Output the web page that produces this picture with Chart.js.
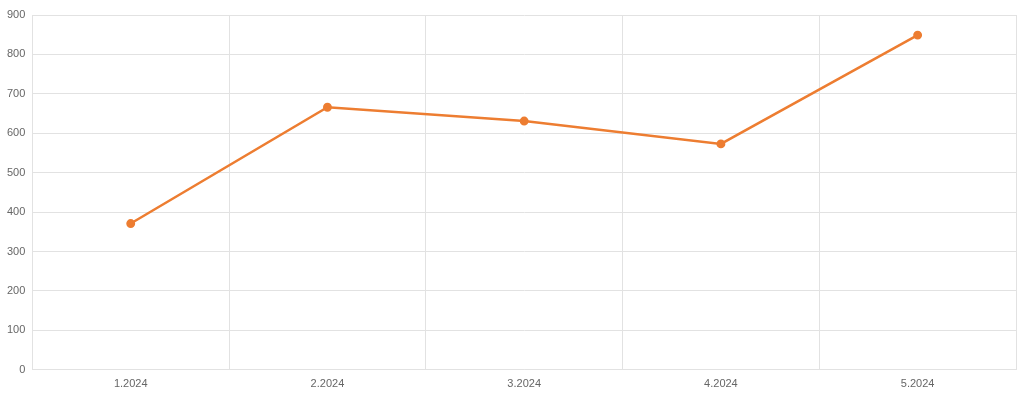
<!DOCTYPE html>
<html>
<head>
<meta charset="utf-8">
<script src="https://cdn.jsdelivr.net/npm/chart.js@4.4.1/dist/chart.umd.min.js"></script>
<style>
  html, body { margin: 0; padding: 0; background: #fff; }
  #wrap { width: 1024px; height: 399px; position: relative; }
</style>
</head>
<body>
<div id="wrap"><canvas id="lineChart"></canvas></div>
<script>
const months = ['1.2024', '2.2024', '3.2024', '4.2024', '5.2024'];
const values = [371, 666, 631, 573, 849];
const yTicks = [0, 100, 200, 300, 400, 500, 600, 700, 800, 900];

document.addEventListener('DOMContentLoaded', () => {
    const ctx = document.getElementById('lineChart').getContext('2d');
    Chart.defaults.font.family = '"Liberation Sans", Arial, sans-serif';
    Chart.defaults.font.size = 11;
    Chart.defaults.color = '#666';
    new Chart(ctx, {
        type: 'line',
        data: {
            labels: months,
            datasets: [{
                label: '',
                data: values,
                borderColor: '#ed7d31',
                backgroundColor: '#ed7d31',
                borderWidth: 2.5,
                pointRadius: 3.2,
                pointHoverRadius: 4,
                tension: 0
            }]
        },
        options: {
            responsive: true,
            maintainAspectRatio: false,
            animation: false,
            layout: { padding: { top: 15, right: 8, left: 0, bottom: 0 } },
            scales: {
                x: {
                    offset: true,
                    grid: { color: '#e2e2e2', offset: true, drawTicks: false },
                    border: { color: '#e2e2e2' },
                    ticks: { padding: 8 }
                },
                y: {
                    min: 0,
                    max: 900,
                    afterBuildTicks: axis => { axis.ticks = yTicks.map(v => ({ value: v })); },
                    grid: { color: '#e2e2e2', drawTicks: false },
                    border: { color: '#e2e2e2' },
                    ticks: { padding: 7 }
                }
            },
            plugins: {
                legend: { display: false },
                tooltip: { enabled: false }
            }
        }
    });
});
</script>
</body>
</html>
